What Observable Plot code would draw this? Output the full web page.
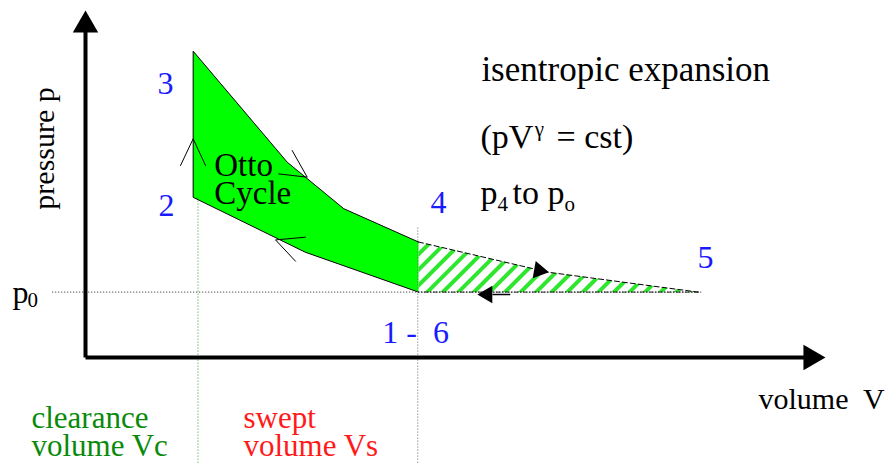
<!DOCTYPE html>
<html>
<head>
<meta charset="utf-8">
<script src="https://cdn.jsdelivr.net/npm/d3@7"></script>
<script src="https://cdn.jsdelivr.net/npm/@observablehq/plot@0.6"></script>
<style>
  html, body { margin: 0; padding: 0; background: #fff; }
  svg { display: block; }
</style>
</head>
<body>
<div id="chart"></div>
<script>
// ---------- data (volume V, pressure p, arbitrary units) ----------
// Otto cycle outline: 1 -> 2 (compression) -> 3 (combustion) -> 4 (expansion)
const cycleOutline = [
  {V: 4.50, p: 2.18},  // 1
  {V: 2.97, p: 3.51},
  {V: 1.455, p: 5.34}, // 2
  {V: 1.455, p: 10.21},// 3
  {V: 2.726, p: 6.51},
  {V: 3.49, p: 4.96},
  {V: 4.50, p: 3.85}   // 4
];
// isentropic expansion 4 -> 5
const expansionLine = [
  {V: 4.50, p: 3.85},
  {V: 6.26, p: 2.84},
  {V: 8.28, p: 2.18}
];
// exhaust 5 -> 6 at p0
const exhaustLine = [
  {V: 8.28, p: 2.18},
  {V: 4.50, p: 2.18}
];
const hatchRegion = [...expansionLine, {V: 4.50, p: 2.18}];

// axes (origin to arrow tips)
const axes = [
  {axis: "V", V1: 0, p1: 0, V2: 10, p2: 0},
  {axis: "p", V1: 0, p1: 0, V2: 0, p2: 11.57}
];

// dotted guide lines
const guideP0 = [{V1: -0.45, p1: 2.18, V2: 8.33, p2: 2.18}];
const guideVc = [{V1: 1.52, p1: 5.33, V2: 1.52, p2: -3.6}];
const guideVs = [{V1: 4.49, p1: 4.33, V2: 4.49, p2: -3.6}];

// open arrowheads on the cycle (barb end, tip, barb end)
const cycleArrows = [
  {arrow: "2-3", V: 1.284, p: 6.40}, {arrow: "2-3", V: 1.455, p: 7.29}, {arrow: "2-3", V: 1.622, p: 6.40},
  {arrow: "3-4", V: 2.793, p: 6.90}, {arrow: "3-4", V: 2.996, p: 6.01}, {arrow: "3-4", V: 2.612, p: 6.12},
  {arrow: "1-2", V: 2.973, p: 4.01}, {arrow: "1-2", V: 2.568, p: 3.92}, {arrow: "1-2", V: 2.838, p: 3.21}
];
// filled flow arrows on the expansion / exhaust
const flowArrows = [
  {V: 6.13, p: 2.90, angle: 100},
  {V: 5.43, p: 2.10, angle: -90}
];
const returnShaft = [{V1: 5.50, p1: 2.10, V2: 5.74, p2: 2.10}];

// text
const pointLabels = [
  {text: "3", V: 0.973, p: 8.80},
  {text: "2", V: 0.986, p: 4.73},
  {text: "4", V: 4.662, p: 4.83},
  {text: "5", V: 8.27, p: 3.00},
  {text: "1 -\u00a0\u00a06", V: 4.01, p: 0.50}
];
const noteTitle = [{text: "isentropic expansion", V: 5.35, p: 9.23}];
const noteTexts = [
  {text: "(pV", V: 5.338, p: 6.97},
  {text: "= cst)", V: 6.365, p: 6.97},
  {text: "p", V: 5.338, p: 5.13},
  {text: "to", V: 5.77, p: 5.13},
  {text: "p", V: 6.243, p: 5.13}
];
const noteSmall = [
  {text: "γ", V: 6.07, p: 7.40},
  {text: "4", V: 5.568, p: 4.90},
  {text: "o", V: 6.473, p: 4.90}
];
const cycleTitle = [{text: "Otto\nCycle", V: 1.74, p: 5.13}];
const axisTitleP = [{text: "pressure p", V: -0.432, p: 6.97}];
const axisTitleV = [{text: "volume  V", V: 9.095, p: -1.70}];
const p0Label = [{text: "p", V: -0.986, p: 1.83}];
const p0Sub = [{text: "0", V: -0.784, p: 1.67}];
const clearanceLabel = [{text: "clearance\nvolume Vc", V: -0.73, p: -3.27}];
const sweptLabel = [{text: "swept\nvolume Vs", V: 2.135, p: -3.27}];

// ---------- styles ----------
const serif = "Liberation Serif";
const blue = "#1a1aff";
const green = "#0a8a0a";
const red = "#ff1a1a";
const triR = (h) => Math.sqrt(3 * Math.sqrt(3) * (h / 3) ** 2 / Math.PI);
const txt = (data, o) => Plot.text(data, {x: "V", y: "p", text: "text", fill: "black", fontFamily: serif, textAnchor: "start", lineAnchor: "bottom", ...o});

const chart = Plot.plot({
  width: 887,
  height: 463,
  margin: 0,
  x: {domain: [0, 10], range: [85, 825], axis: null},
  y: {domain: [0, 10], range: [357, 57], axis: null},
  style: {background: "white", overflow: "visible"},
  marks: [
    Plot.line(hatchRegion, {x: "V", y: "p", fill: "url(#hatch)", stroke: "none"}),
    Plot.line(cycleOutline, {x: "V", y: "p", fill: "#00ff00", stroke: "black", strokeWidth: 1, strokeLinejoin: "miter"}),
    Plot.link(guideP0, {x1: "V1", y1: "p1", x2: "V2", y2: "p2", stroke: "#222", strokeWidth: 1, strokeDasharray: "1,2"}),
    Plot.link(guideVc, {x1: "V1", y1: "p1", x2: "V2", y2: "p2", stroke: "#2a9a2a", strokeWidth: 1, strokeDasharray: "1,2"}),
    Plot.link(guideVs, {x1: "V1", y1: "p1", x2: "V2", y2: "p2", stroke: "#666", strokeWidth: 1, strokeDasharray: "1,2"}),
    Plot.line(expansionLine, {x: "V", y: "p", stroke: "black", strokeWidth: 1, strokeDasharray: "5,3"}),
    Plot.line(exhaustLine, {x: "V", y: "p", stroke: "#222", strokeWidth: 1, strokeDasharray: "4,2,1,2"}),
    Plot.line(cycleArrows, {x: "V", y: "p", z: "arrow", stroke: "black", strokeWidth: 1, strokeLinejoin: "miter"}),
    Plot.link(returnShaft, {x1: "V1", y1: "p1", x2: "V2", y2: "p2", stroke: "black", strokeWidth: 1.5}),
    Plot.dot(flowArrows, {x: "V", y: "p", symbol: "triangle", r: triR(15), fill: "black", stroke: "none", rotate: "angle"}),
    Plot.arrow(axes, {x1: "V1", y1: "p1", x2: "V2", y2: "p2", stroke: "black", strokeWidth: 4, headLength: 0, insetEnd: 14, strokeLinecap: "butt"}),
    Plot.dot(axes.filter(d => d.axis === "V"), {x: "V2", y: "p2", symbol: "triangle", r: triR(22), fill: "black", stroke: "none", rotate: 90, dx: -14.7}),
    Plot.dot(axes.filter(d => d.axis === "p"), {x: "V2", y: "p2", symbol: "triangle", r: triR(22), fill: "black", stroke: "none", rotate: 0, dy: 14.7}),
    txt(pointLabels, {fill: blue, fontSize: 32}),
    txt(noteTitle, {fontSize: 35}),
    txt(noteTexts, {fontSize: 34}),
    txt(noteSmall, {fontSize: 21}),
    txt(cycleTitle, {fontSize: 33, lineHeight: 0.84}),
    txt(axisTitleP, {fontSize: 30, textAnchor: "middle", rotate: -90}),
    txt(axisTitleV, {fontSize: 30}),
    txt(p0Label, {fontSize: 32}),
    txt(p0Sub, {fontSize: 21}),
    txt(clearanceLabel, {fill: green, fontSize: 31, lineHeight: 0.88}),
    txt(sweptLabel, {fill: red, fontSize: 31, lineHeight: 0.88})
  ]
});

// hatch pattern for the expansion area
const defs = d3.select(chart).insert("defs", ":first-child");
const pat = defs.append("pattern")
  .attr("id", "hatch")
  .attr("patternUnits", "userSpaceOnUse")
  .attr("width", 11).attr("height", 11)
  .attr("patternTransform", "rotate(45)");
pat.append("rect").attr("width", 11).attr("height", 11).attr("fill", "white");
pat.append("rect").attr("width", 4).attr("height", 11).attr("fill", "#2ee62e");

document.getElementById("chart").appendChild(chart);
</script>
</body>
</html>
